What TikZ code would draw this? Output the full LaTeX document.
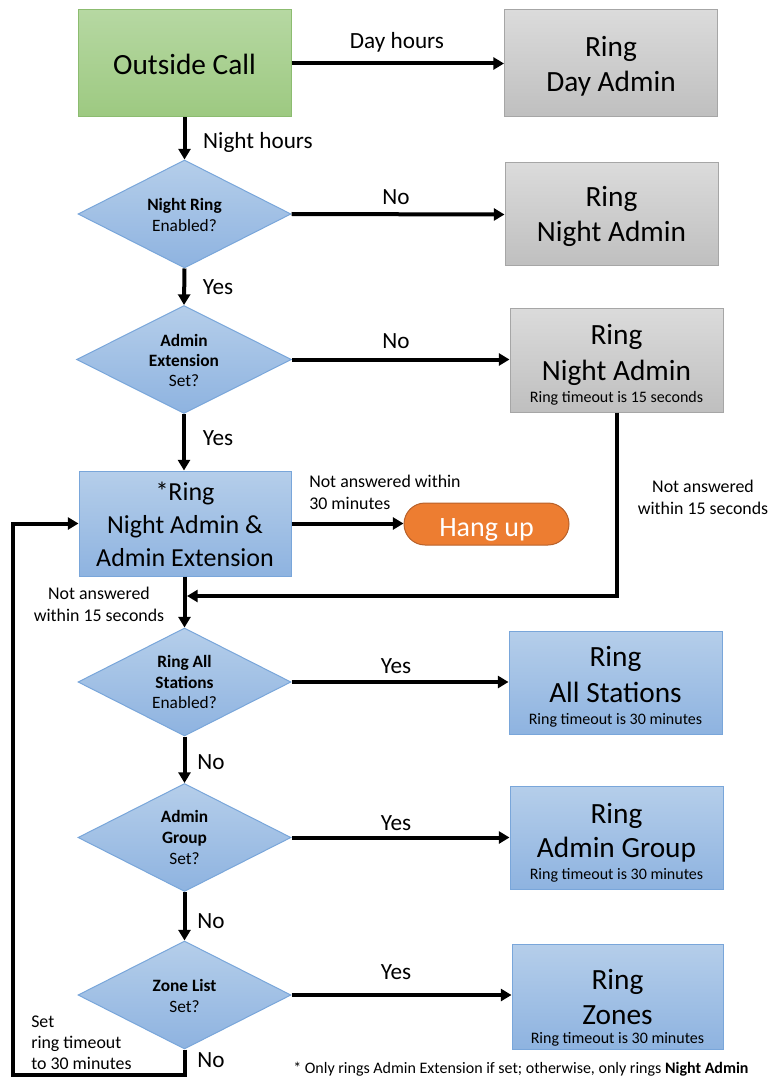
\documentclass[tikz,border=0pt]{standalone}
\usepackage{fontspec}
\setmainfont{Carlito}
\usetikzlibrary{shapes.geometric,arrows.meta}
\definecolor{gtop}{HTML}{B6D8A2}
\definecolor{gbot}{HTML}{9DC981}
\definecolor{gbor}{HTML}{8CBC70}
\definecolor{ytop}{HTML}{DBDBDB}
\definecolor{ybot}{HTML}{BFBFBF}
\definecolor{ybor}{HTML}{A6A6A6}
\definecolor{btop}{HTML}{B5CEEA}
\definecolor{bbot}{HTML}{8EB3E0}
\definecolor{bbor}{HTML}{79A6DA}
\definecolor{orf}{HTML}{ED7D31}
\definecolor{orb}{HTML}{B8612A}
\newcommand\fbig{\fontsize{22}{27}\selectfont}
\newcommand\fdia{\fontsize{13}{15.5}\selectfont}
\newcommand\flab{\fontsize{17.4}{21}\selectfont}
\newcommand\fsml{\fontsize{13.4}{16.5}\selectfont}
\newcommand\ftiny{\fontsize{12}{14}\selectfont}
% #1 raise of first baseline above node centre, #2 font size, #3 line spacing, #4 lines
\newcommand\mlines[4]{\raisebox{#1}[0pt][0pt]{\fontsize{#2}{#3}\selectfont\begin{tabular}[t]{@{}c@{}}#4\end{tabular}}}
\begin{document}
\begin{tikzpicture}[x=0.75pt,y=-0.75pt,
  box/.style={rectangle, minimum width=159.75pt, minimum height=80.25pt, inner sep=0pt, line width=0.75pt, font=\fbig},
  greenbox/.style={box, draw=gbor, top color=gtop, bottom color=gbot},
  graybox/.style={box, draw=ybor, top color=ytop, bottom color=ybot},
  bluebox/.style={box, draw=bbor, top color=btop, bottom color=bbot},
  dia/.style={diamond, aspect=2, inner sep=0pt, minimum width=159.75pt, minimum height=81pt, draw=bbor, top color=btop, bottom color=bbot, line width=0.75pt, font=\fdia},
  arr/.style={line width=3pt, -{Triangle[length=8pt,width=9pt]}},
  lbl/.style={font=\flab, inner sep=0pt},
  sml/.style={font=\fsml, inner sep=0pt, align=center}
]
\useasboundingbox (0,0) rectangle (769,1080);

% nodes
\node[greenbox] (oc) at (184.5,63.5) {\mlines{-8.6pt}{22}{26.25}{Outside Call}};
\node[graybox] (day) at (611,63.5) {\mlines{4.875pt}{22}{26.25}{Ring\\Day Admin}};
\node[dia] (nr) at (184.5,214) {\mlines{2.5pt}{13}{15.75}{\textbf{Night Ring}\\Enabled?}};
\node[graybox, minimum height=77.25pt] (na1) at (611.5,214.5) {\mlines{5.625pt}{22}{26.25}{Ring\\Night Admin}};
\node[dia, minimum width=161.25pt] (ae) at (184,359.5) {\mlines{9.4pt}{13}{15}{\textbf{Admin}\\\textbf{Extension}\\Set?}};
\node[graybox, minimum height=78pt] (na2) at (616.5,360) {\mlines{12pt}{22}{27}{Ring\\Night Admin\\[-10.5pt]{\ftiny Ring timeout is 15 seconds}}};
\node[bluebox, minimum width=159pt, minimum height=78.75pt] (ring) at (185,523.5) {\mlines{17.6pt}{19.5}{24.75}{*Ring\\Night Admin \&\\Admin Extension}};
\node[rectangle, rounded corners=15.75pt, minimum width=123.75pt, minimum height=31.5pt, fill=orf, draw=orb, line width=0.75pt, text=white, font=\fontsize{21}{24}\selectfont, inner sep=0pt] (hang) at (486.5,524) {\raisebox{-9pt}[0pt][0pt]{Hang up}};
\node[dia] (ras) at (184.5,682) {\mlines{11pt}{13}{15.5}{\textbf{Ring All}\\\textbf{Stations}\\Enabled?}};
\node[bluebox, minimum height=77.25pt] (rasb) at (615.5,682.5) {\mlines{12.375pt}{22}{27}{Ring\\All Stations\\[-10.5pt]{\ftiny Ring timeout is 30 minutes}}};
\node[dia] (ag) at (184.5,837.5) {\mlines{11pt}{13}{15.5}{\textbf{Admin}\\\textbf{Group}\\Set?}};
\node[bluebox, minimum height=77.25pt] (agb) at (616.5,837.5) {\mlines{10.875pt}{22}{25.5}{Ring\\Admin Group\\[-9pt]{\ftiny Ring timeout is 30 minutes}}};
\node[dia] (zl) at (184.5,995) {\mlines{3pt}{13}{15.75}{\textbf{Zone List}\\Set?}};
\node[bluebox, minimum width=158.25pt, minimum height=78.75pt] (zlb) at (617.5,996.5) {\mlines{5.625pt}{22}{26.25}{Ring\\Zones\\[-12pt]{\ftiny Ring timeout is 30 minutes}}};

% connector helper coordinates
\coordinate (m) at (187,596);
\coordinate (c1) at (184.5,1075);
\coordinate (c2) at (13,1075);
\coordinate (c3) at (13,523.5);

% connectors
\draw[arr] (oc.east) -- (day.west);
\draw[arr] (oc.south) -- (nr.north);
\draw[arr] (nr.east) -- (na1.west);
\draw[arr] (nr.south) -- (ae.north);
\draw[arr] (ae.east) -- (na2.west |- ae.east);
\draw[arr] (ae.south) -- (ring.north -| ae.south);
\draw[arr] (ring.east) -- (hang.west |- ring.east);
\draw[arr] (na2.south) |- (m);
\draw[arr] (ring.south -| ras.north) -- (ras.north);
\draw[arr] (ras.east) -- (rasb.west |- ras.east);
\draw[arr] (ras.south) -- (ag.north);
\draw[arr] (ag.east) -- (agb.west |- ag.east);
\draw[arr] (ag.south) -- (zl.north);
\draw[arr] (zl.east) -- (zlb.west |- zl.east);
\draw[arr] (zl.south) -- (c1) -- (c2) -- (c3) -- (ring.west);

% labels
\node[lbl] (l1) at (397,42) {Day hours};
\node[lbl] (l2) at (258,142) {Night hours};
\node[lbl] (l3) at (396,197) {No};
\node[lbl] (l4) at (218,287) {Yes};
\node[lbl] (l5) at (396,341) {No};
\node[lbl] (l6) at (218,438) {Yes};
\node[sml, align=left, anchor=west] (l7) at (309,492) {Not answered within\\30 minutes};
\node[sml] (l8) at (703,497.5) {Not answered\\within 15 seconds};
\node[sml] (l9) at (99,604) {Not answered\\within 15 seconds};
\node[lbl] (l10) at (396,666) {Yes};
\node[lbl] (l11) at (211,762) {No};
\node[lbl] (l12) at (396,823) {Yes};
\node[lbl] (l13) at (211,921) {No};
\node[lbl] (l14) at (396,972) {Yes};
\node[lbl] (l15) at (211,1060) {No};
\node[sml, align=left, anchor=west, font=\fontsize{13.4}{15.75}\selectfont] (l16) at (31,1043) {Set\\ring timeout\\to 30 minutes};
\node[inner sep=0pt, font=\ftiny, anchor=west] (fn) at (293,1069) {* Only rings Admin Extension if set; otherwise, only rings \textbf{Night Admin}};
\end{tikzpicture}
\end{document}
